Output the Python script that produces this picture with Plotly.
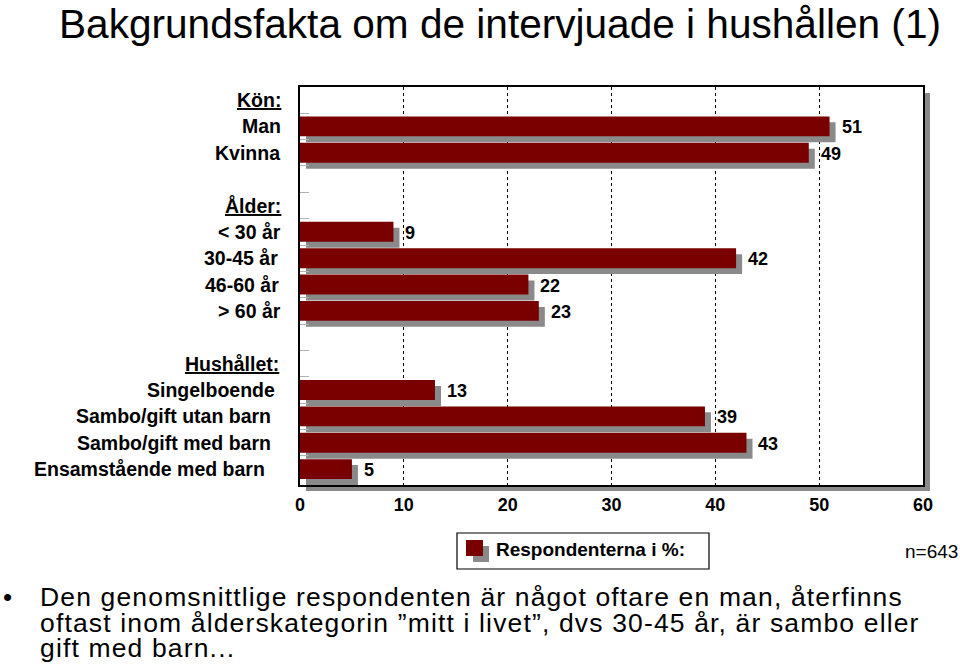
import plotly.graph_objects as go

# ---------------- data ----------------
group_headers = ["Kön:", "Ålder:", "Hushållet:"]
kon_cats = ["Man", "Kvinna"]
kon_vals = [51, 49]
alder_cats = ["< 30 år", "30-45 år", "46-60 år", "> 60 år"]
alder_vals = [9, 42, 22, 23]
hush_cats = ["Singelboende", "Sambo/gift utan barn", "Sambo/gift med barn", "Ensamstående med barn"]
hush_vals = [13, 39, 43, 5]
x_tick_vals = [0, 10, 20, 30, 40, 50, 60]
legend_label = "Respondenterna i %:"
n_label = "n=643"
title_text = "Bakgrundsfakta om de intervjuade i hushållen (1)"
bullet_lines = [
    "Den genomsnittlige respondenten är något oftare en man, återfinns",
    "oftast inom ålderskategorin ”mitt i livet”, dvs 30-45 år, är sambo eller",
    "gift med barn...",
]

# category order on the axis (headers + blank spacer rows)
cat_order = ([group_headers[0]] + kon_cats + [" "] +
             [group_headers[1]] + alder_cats + ["  "] +
             [group_headers[2]] + hush_cats)
bar_cats = kon_cats + alder_cats + hush_cats
bar_vals = kon_vals + alder_vals + hush_vals

# ---------------- layout geometry ----------------
W_FIG, H_FIG = 960, 667
L, R, T, B = 300, 923, 87, 485
PW, PH = R - L, B - T

def px_x(px):
    return (px - L) / PW

def px_y(py):
    return (B - py) / PH

RED = "#7a0000"
GRAY = "#8a8a8a"
FONT = "Liberation Sans, Arial, Helvetica, sans-serif"

BAR_W = 0.755
SHADOW_DY = 0.226
SHADOW_DX = 0.58

fig = go.Figure()
fig.add_trace(go.Bar(
    y=bar_cats, x=bar_vals, orientation="h", base=SHADOW_DX,
    width=BAR_W, offset=-BAR_W / 2 + SHADOW_DY,
    marker=dict(color=GRAY, line=dict(width=0)), hoverinfo="skip", showlegend=False,
))
fig.add_trace(go.Bar(
    y=bar_cats, x=bar_vals, orientation="h",
    width=BAR_W, offset=-BAR_W / 2,
    marker=dict(color=RED, line=dict(width=0)), name=legend_label, showlegend=False,
))

annotations = []
# value labels
for c, v in zip(bar_cats, bar_vals):
    annotations.append(dict(
        x=v, y=c, xref="x", yref="y", text=f"<b>{v}</b>", showarrow=False,
        xanchor="left", yanchor="middle", xshift=10, yshift=-1,
        font=dict(family=FONT, size=18, color="black"),
    ))

# category labels (right aligned text boxes)
label_right = {
    "Kön:": 283, "Man": 283, "Kvinna": 282, "Ålder:": 283,
    "< 30 år": 283, "30-45 år": 280, "46-60 år": 281, "> 60 år": 283,
    "Hushållet:": 281, "Singelboende": 277, "Sambo/gift utan barn": 273,
    "Sambo/gift med barn": 273, "Ensamstående med barn": 267,
}
for c in cat_order:
    if c.strip() == "":
        continue
    txt = f"<b><u>{c}</u></b>" if c in group_headers else f"<b>{c}</b>"
    annotations.append(dict(
        x=px_x(label_right[c]), y=c, xref="paper", yref="y", text=txt,
        showarrow=False, xanchor="right", yanchor="middle", yshift=0,
        font=dict(family=FONT, size=19.5, color="black"),
    ))

# title
annotations.append(dict(
    x=px_x(58), y=px_y(0), xref="paper", yref="paper", text=title_text,
    showarrow=False, xanchor="left", yanchor="top", borderpad=0,
    font=dict(family=FONT, size=40.6, color="black"),
))
# legend text and n
annotations.append(dict(
    x=px_x(494), y=px_y(549), xref="paper", yref="paper", text=f"<b>{legend_label}</b>",
    showarrow=False, xanchor="left", yanchor="middle",
    font=dict(family=FONT, size=19, color="black"),
))
annotations.append(dict(
    x=px_x(960), y=px_y(551), xref="paper", yref="paper", text=n_label,
    showarrow=False, xanchor="right", yanchor="middle",
    font=dict(family=FONT, size=19, color="black"),
))
# bullet text: one block, line pitch from base size, glyphs enlarged via span
bullet_html = "<br>".join(
    f'<span style="font-size:26.5px;letter-spacing:1.15px">{ln}</span>' for ln in bullet_lines
)
annotations.append(dict(
    x=px_x(1), y=px_y(597), xref="paper", yref="paper", text="•",
    showarrow=False, xanchor="left", yanchor="middle",
    font=dict(family=FONT, size=26, color="black"),
))
annotations.append(dict(
    x=px_x(39), y=px_y(622), xref="paper", yref="paper", text=bullet_html,
    showarrow=False, xanchor="left", yanchor="middle", align="left", borderpad=0,
    font=dict(family=FONT, size=19.77, color="black"),
))

shapes = [
    # plot box shadow
    dict(type="rect", xref="paper", yref="paper", x0=px_x(R + 1), x1=px_x(R + 7),
         y0=px_y(B + 6), y1=px_y(T + 6), fillcolor=GRAY, line=dict(width=0), layer="below"),
    dict(type="rect", xref="paper", yref="paper", x0=px_x(L + 6), x1=px_x(R + 7),
         y0=px_y(B + 6), y1=px_y(B + 1), fillcolor=GRAY, line=dict(width=0), layer="below"),
    # legend box
    dict(type="rect", xref="paper", yref="paper", x0=px_x(457), x1=px_x(709),
         y0=px_y(569), y1=px_y(533), fillcolor="white", line=dict(color="black", width=1.2)),
    dict(type="rect", xref="paper", yref="paper", x0=px_x(473), x1=px_x(489),
         y0=px_y(562), y1=px_y(546), fillcolor=GRAY, line=dict(width=0)),
    dict(type="rect", xref="paper", yref="paper", x0=px_x(466), x1=px_x(483),
         y0=px_y(556), y1=px_y(540), fillcolor=RED, line=dict(width=0)),
]

fig.update_layout(
    width=W_FIG, height=H_FIG,
    margin=dict(l=L, r=W_FIG - R, t=T, b=H_FIG - B, pad=0),
    paper_bgcolor="white", plot_bgcolor="white",
    barmode="overlay", showlegend=False,
    annotations=annotations, shapes=shapes,
    font=dict(family=FONT, color="black"),
    xaxis=dict(
        range=[0, 60], tickvals=x_tick_vals, ticktext=[f"<b>{v}</b>" for v in x_tick_vals],
        showgrid=True, gridcolor="black", griddash="dot", gridwidth=1,
        showline=True, linecolor="black", linewidth=1.5, mirror=True,
        zeroline=False, ticks="", tickfont=dict(family=FONT, size=18, color="black"),
        ticklabelstandoff=3, fixedrange=True,
    ),
    yaxis=dict(
        type="category", categoryorder="array", categoryarray=cat_order,
        autorange="reversed", showticklabels=False,
        ticks="inside", tickson="boundaries", ticklen=9, tickcolor="#b0b0b0", tickwidth=1,
        showgrid=False, showline=True, linecolor="black", linewidth=1.5, mirror=True,
        zeroline=False, fixedrange=True,
    ),
)

fig.write_html("out.html")
